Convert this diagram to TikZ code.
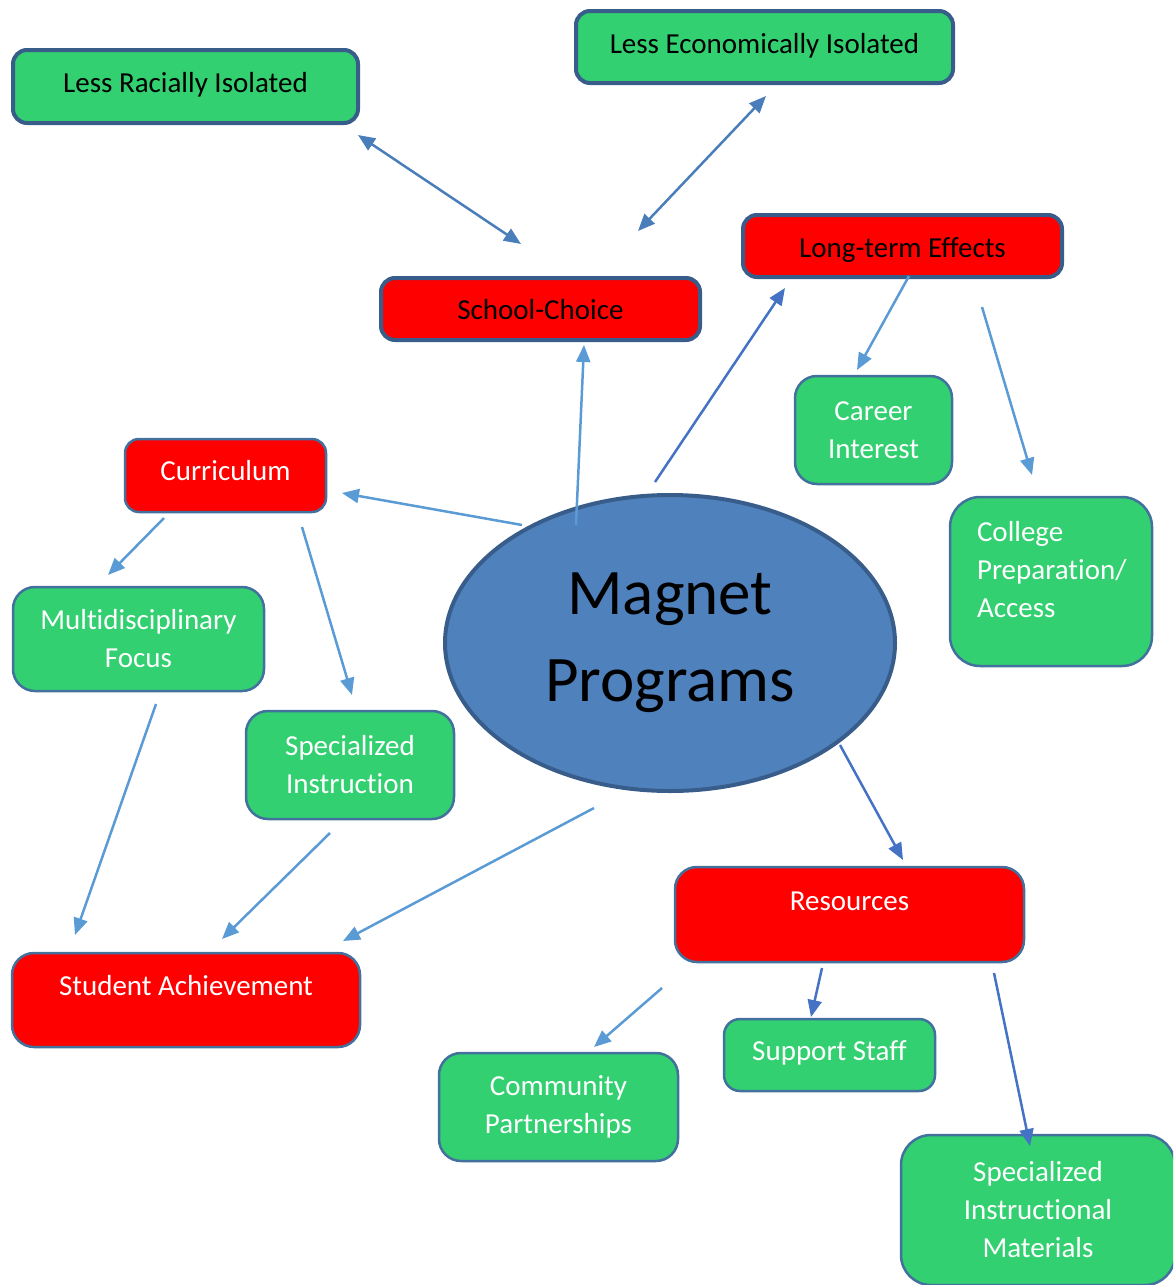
\documentclass[tikz,border=0pt]{standalone}
\usepackage{fontspec}
\setmainfont{Carlito}[Ligatures=NoCommon]
\usetikzlibrary{shapes.geometric,arrows.meta}
\definecolor{boxgreen}{RGB}{50,208,112}
\definecolor{boxred}{RGB}{255,0,0}
\definecolor{edgedark}{RGB}{56,93,138}
\definecolor{edgeblue}{RGB}{65,113,156}
\definecolor{ovalblue}{RGB}{79,129,189}
\definecolor{arrowlight}{RGB}{91,155,213}
\definecolor{arrowdark}{RGB}{68,114,196}
\definecolor{arrowsteel}{RGB}{74,126,187}
\tikzset{
  >={Triangle[length=17pt,width=14pt]},
  lift/.style={text height=25pt,text depth=#1},
}
\tikzstyle{every node}=[font=\fontsize{29}{38}\selectfont]
\tikzstyle{topbox}=[draw=edgedark,line width=4pt,rounded corners=14pt,align=center]
\tikzstyle{subbox}=[draw=edgeblue,line width=2.5pt,rounded corners=22pt,align=center,text=white]
\tikzstyle{link}=[->,line width=2.5pt,arrowlight]
\tikzstyle{linkdark}=[->,line width=2.5pt,arrowdark]
\tikzstyle{both}=[<->,line width=2.5pt,arrowsteel]

\begin{document}
\begin{tikzpicture}[x=1pt,y=-1pt]
    \useasboundingbox (0,0) rectangle (1173,1285);
    \clip (0,0) rectangle (1173,1285);
    % centre
    \node[ellipse,draw=edgedark,line width=4pt,fill=ovalblue,minimum width=450pt,
      minimum height=296pt,align=center,font=\fontsize{65}{87}\selectfont]
      (mag) at (670,643) {Magnet\\Programs};
    % top row
    \node[topbox,fill=boxgreen,minimum width=345pt,minimum height=73pt,lift=13.4pt]
      (lri) at (185.5,86.5) {Less Racially Isolated};
    \node[topbox,fill=boxgreen,minimum width=377pt,minimum height=72pt,lift=12.4pt]
      (lei) at (764.5,47) {Less Economically Isolated};
    \node[topbox,fill=boxred,minimum width=319pt,minimum height=62pt,lift=4.4pt]
      (sch) at (540.5,309) {School-Choice};
    \node[topbox,fill=boxred,minimum width=319pt,minimum height=62pt,lift=2.4pt]
      (lte) at (902.5,246) {Long-term Effects};
    % branches
    \node[subbox,fill=boxred,minimum width=201pt,minimum height=73pt,rounded corners=14pt,lift=15.4pt]
      (cur) at (225.5,475.5) {Curriculum};
    \node[subbox,fill=boxgreen,minimum width=157pt,minimum height=108pt]
      (car) at (873.5,430) {Career\\Interest};
    \node[subbox,fill=boxgreen,minimum width=202pt,minimum height=169pt,rounded corners=30pt,
      text width=148pt,align=left]
      (col) at (1051,581.5) {College\\Preparation/\\Access\\[-13pt]\mbox{}};
    \node[subbox,fill=boxgreen,minimum width=251pt,minimum height=104pt]
      (mul) at (138.5,639) {Multidisciplinary\\Focus};
    \node[subbox,fill=boxgreen,minimum width=208pt,minimum height=108pt]
      (spi) at (350,765) {Specialized\\Instruction};
    \node[subbox,fill=boxred,minimum width=348pt,minimum height=94pt,lift=34.4pt]
      (ach) at (186,1000) {Student Achievement};
    \node[subbox,fill=boxred,minimum width=349pt,minimum height=95pt,lift=33.4pt]
      (res) at (849.5,914.5) {Resources};
    \node[subbox,fill=boxgreen,minimum width=211pt,minimum height=72pt,rounded corners=16pt,lift=14.4pt]
      (sup) at (829.5,1055) {Support Staff};
    \node[subbox,fill=boxgreen,minimum width=239pt,minimum height=108pt]
      (com) at (558.5,1107) {Community\\Partnerships};
    \node[subbox,fill=boxgreen,minimum width=274pt,minimum height=150pt,rounded corners=30pt]
      (sim) at (1038,1210) {Specialized\\Instructional\\Materials};
    % arrow ends
    \coordinate (lri-a) at (358,135);   \coordinate (sch-a) at (521,244);
    \coordinate (lei-a) at (766,96);    \coordinate (sch-b) at (638,231);
    \coordinate (mag-a) at (576,525);   \coordinate (sch-c) at (584,345);
    \coordinate (mag-b) at (655,482);   \coordinate (lte-a) at (785,288);
    \coordinate (lte-b) at (909,276);   \coordinate (car-a) at (857,370);
    \coordinate (lte-c) at (982,307);   \coordinate (col-a) at (1032,475);
    \coordinate (mag-c) at (522,525);   \coordinate (cur-a) at (342,493);
    \coordinate (cur-b) at (164,518);   \coordinate (mul-a) at (108,575);
    \coordinate (cur-c) at (302,527);   \coordinate (spi-a) at (352,695);
    \coordinate (mul-b) at (156,704);   \coordinate (ach-a) at (75,935);
    \coordinate (spi-b) at (330,833);   \coordinate (ach-b) at (222,939);
    \coordinate (mag-d) at (594,808);   \coordinate (ach-c) at (343,941);
    \coordinate (mag-e) at (840,745);   \coordinate (res-a) at (903,860);
    \coordinate (res-b) at (662,988);   \coordinate (com-a) at (594,1047);
    \coordinate (res-c) at (822,968);   \coordinate (sup-a) at (811,1017);
    \coordinate (res-d) at (994,973);   \coordinate (sim-a) at (1030,1146);
    % arrows
    \draw[both] (lri-a) -- (sch-a);
    \draw[both] (lei-a) -- (sch-b);
    \draw[link] (mag-a) -- (sch-c);
    \draw[linkdark] (mag-b) -- (lte-a);
    \draw[link] (lte-b) -- (car-a);
    \draw[link] (lte-c) -- (col-a);
    \draw[link] (mag-c) -- (cur-a);
    \draw[link] (cur-b) -- (mul-a);
    \draw[link] (cur-c) -- (spi-a);
    \draw[link] (mul-b) -- (ach-a);
    \draw[link] (spi-b) -- (ach-b);
    \draw[link] (mag-d) -- (ach-c);
    \draw[linkdark] (mag-e) -- (res-a);
    \draw[link] (res-b) -- (com-a);
    \draw[linkdark] (res-c) -- (sup-a);
    \draw[linkdark] (res-d) -- (sim-a);
  \end{tikzpicture}
\end{document}
